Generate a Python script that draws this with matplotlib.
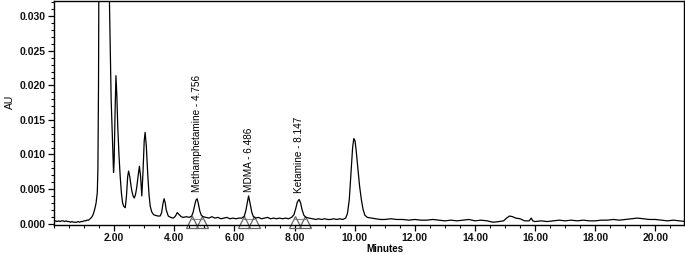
import matplotlib
matplotlib.use("Agg")
import matplotlib.pyplot as plt
from matplotlib.ticker import MultipleLocator, FormatStrFormatter

# ---- data ----
time_min = [
    0.00, 0.05, 0.10, 0.15, 0.20, 0.25, 0.30, 0.35, 0.40, 0.45, 0.50, 0.55, 0.60, 0.65, 0.70,
    0.75, 0.80, 0.85, 0.90, 0.95, 1.00, 1.05, 1.10, 1.15, 1.20, 1.25, 1.30, 1.35, 1.40, 1.44,
    1.46, 1.48, 1.50, 1.82, 1.84, 1.90, 1.98, 2.00, 2.03, 2.06, 2.09, 2.12, 2.16, 2.20, 2.24,
    2.28, 2.32, 2.37, 2.41, 2.45, 2.48, 2.52, 2.56, 2.59, 2.63, 2.67, 2.71, 2.75, 2.80, 2.84,
    2.88, 2.92, 2.96, 3.00, 3.03, 3.07, 3.12, 3.16, 3.20, 3.25, 3.31, 3.37, 3.45, 3.53, 3.58,
    3.62, 3.66, 3.70, 3.73, 3.80, 3.88, 3.97, 4.04, 4.10, 4.16, 4.23, 4.30, 4.40, 4.50, 4.58,
    4.63, 4.68, 4.72, 4.76, 4.80, 4.85, 4.90, 4.96, 5.05, 5.15, 5.25, 5.35, 5.45, 5.55, 5.65,
    5.75, 5.85, 5.95, 6.05, 6.15, 6.25, 6.33, 6.38, 6.43, 6.47, 6.49, 6.53, 6.58, 6.63, 6.70,
    6.80, 6.90, 7.00, 7.10, 7.20, 7.30, 7.40, 7.50, 7.60, 7.70, 7.80, 7.90, 7.98, 8.04, 8.09,
    8.15, 8.20, 8.25, 8.31, 8.38, 8.48, 8.60, 8.70, 8.80, 8.90, 9.00, 9.10, 9.20, 9.30, 9.40,
    9.50, 9.60, 9.70, 9.76, 9.82, 9.88, 9.93, 9.97, 10.01, 10.05, 10.10, 10.16, 10.22, 10.28,
    10.34, 10.42, 10.55, 10.70, 10.85, 11.00, 11.20, 11.40, 11.60, 11.80, 12.00, 12.20, 12.40,
    12.60, 12.80, 13.00, 13.20, 13.40, 13.60, 13.80, 14.00, 14.20, 14.40, 14.60, 14.80, 14.95,
    15.05, 15.15, 15.25, 15.35, 15.50, 15.65, 15.80, 15.87, 15.92, 16.00, 16.20, 16.40, 16.60,
    16.80, 17.00, 17.20, 17.40, 17.60, 17.80, 18.00, 18.20, 18.40, 18.60, 18.80, 19.00, 19.20,
    19.40, 19.60, 19.80, 20.00, 20.20, 20.40, 20.60, 20.80, 21.00,
]
absorbance = [
    0.0003, 0.0004, 0.0003, 0.0004, 0.0003, 0.0004, 0.0004, 0.0003, 0.0004, 0.0003, 0.0003, 0.0002, 0.0003, 0.0002, 0.0002,
    0.0002, 0.0003, 0.0002, 0.0003, 0.0003, 0.0004, 0.0004, 0.0005, 0.0005, 0.0007, 0.0009, 0.0013, 0.0020, 0.0030, 0.0045,
    0.0080, 0.0200, 0.0450, 0.0450, 0.0330, 0.0180, 0.0074, 0.0090, 0.0160, 0.0214, 0.0185, 0.0141, 0.0100, 0.0069, 0.0045,
    0.0030, 0.0025, 0.0023, 0.0040, 0.0068, 0.0076, 0.0068, 0.0055, 0.0047, 0.0040, 0.0037, 0.0042, 0.0052, 0.0070, 0.0083,
    0.0068, 0.0040, 0.0075, 0.0120, 0.0132, 0.0112, 0.0069, 0.0042, 0.0025, 0.0017, 0.0013, 0.0012, 0.0011, 0.0011, 0.0016,
    0.0028, 0.0036, 0.0030, 0.0020, 0.0011, 0.0009, 0.0008, 0.0011, 0.0016, 0.0013, 0.0010, 0.0009, 0.0010, 0.0009, 0.0011,
    0.0017, 0.0027, 0.0034, 0.0036, 0.0029, 0.0018, 0.0012, 0.0010, 0.0009, 0.0008, 0.0010, 0.0008, 0.0009, 0.0007, 0.0008,
    0.0009, 0.0007, 0.0008, 0.0007, 0.0008, 0.0008, 0.0011, 0.0019, 0.0031, 0.0040, 0.0036, 0.0027, 0.0016, 0.0010, 0.0008,
    0.0009, 0.0007, 0.0008, 0.0009, 0.0007, 0.0008, 0.0007, 0.0008, 0.0007, 0.0008, 0.0007, 0.0009, 0.0013, 0.0022, 0.0031,
    0.0035, 0.0030, 0.0020, 0.0012, 0.0009, 0.0008, 0.0007, 0.0006, 0.0007, 0.0006, 0.0007, 0.0006, 0.0006, 0.0007, 0.0006,
    0.0007, 0.0006, 0.0008, 0.0015, 0.0035, 0.0075, 0.0110, 0.0123, 0.0120, 0.0105, 0.0082, 0.0055, 0.0035, 0.0020,
    0.0012, 0.0009, 0.0008, 0.0007, 0.0006, 0.0006, 0.0007, 0.0006, 0.0006, 0.0005, 0.0006, 0.0005, 0.0005,
    0.0006, 0.0005, 0.0004, 0.0005, 0.0004, 0.0005, 0.0006, 0.0004, 0.0005, 0.0004, 0.0002, 0.0003, 0.0004,
    0.0008, 0.0011, 0.0010, 0.0008, 0.0007, 0.0004, 0.0004, 0.0008, 0.0004, 0.0003, 0.0004, 0.0003, 0.0004,
    0.0005, 0.0004, 0.0005, 0.0004, 0.0005, 0.0004, 0.0004, 0.0005, 0.0005, 0.0006, 0.0005, 0.0006, 0.0007,
    0.0008, 0.0007, 0.0006, 0.0006, 0.0005, 0.0004, 0.0005, 0.0004, 0.0003,
]

peak_names = ["Methamphetamine", "MDMA", "Ketamine"]
peak_rt = [4.756, 6.486, 8.147]
peak_label_au = [0.0046, 0.0046, 0.0044]
peak_start = [4.60, 6.32, 8.01]
peak_end = [4.91, 6.65, 8.34]
baseline_au = [0.0002, 0.0002, 0.0002]

xtick_values = [2, 4, 6, 8, 10, 12, 14, 16, 18, 20]
ytick_values = [0.000, 0.005, 0.010, 0.015, 0.020, 0.025, 0.030]

# ---- figure ----
plt.rcParams['font.family'] = ['Liberation Sans', 'DejaVu Sans']
fig = plt.figure(figsize=(6.85, 2.54), dpi=100)
ax = fig.add_axes([54 / 685, 1 - 225 / 254, 630 / 685, 224 / 254])

ax.plot(time_min, absorbance, color='black', lw=0.9, zorder=3)

# integration baselines and markers
for s, e, b in zip(peak_start, peak_end, baseline_au):
    ax.plot([s, e], [b + 0.0005, b + 0.0005], color='#888888', lw=0.8, zorder=2)
    ax.plot([s, e], [b, b], linestyle='none', marker='^', markersize=9,
            markerfacecolor='none', markeredgecolor='#666666', markeredgewidth=0.9,
            zorder=2, clip_on=False)

for name, rt, ly in zip(peak_names, peak_rt, peak_label_au):
    ax.text(rt, ly, f"{name} - {rt:.3f}", rotation=90, ha='center', va='bottom',
            fontsize=7.2)

ax.set_xlim(0, 20.95)
ax.set_ylim(-0.0002, 0.0322)

ax.set_xticks(xtick_values)
ax.xaxis.set_major_formatter(FormatStrFormatter('%.2f'))
ax.xaxis.set_minor_locator(MultipleLocator(0.5))
ax.set_yticks(ytick_values)
ax.yaxis.set_major_formatter(FormatStrFormatter('%.3f'))
ax.yaxis.set_minor_locator(MultipleLocator(0.001))

ax.tick_params(axis='both', which='major', direction='out', length=4, width=0.9,
               labelsize=7.5, pad=2)
ax.tick_params(axis='both', which='minor', direction='out', length=2.5, width=0.8)
for lab in ax.get_xticklabels() + ax.get_yticklabels():
    lab.set_fontweight('bold')
    lab.set_color('#111111')

ax.set_ylabel('AU', fontsize=7.5)
ax.yaxis.set_label_coords(-0.062, 0.55)
ax.set_xlabel('Minutes', fontsize=7, fontweight='bold')
ax.xaxis.set_label_coords(0.525, -0.085)

for sp in ax.spines.values():
    sp.set_linewidth(1.0)

fig.savefig('out.png', dpi=100)
